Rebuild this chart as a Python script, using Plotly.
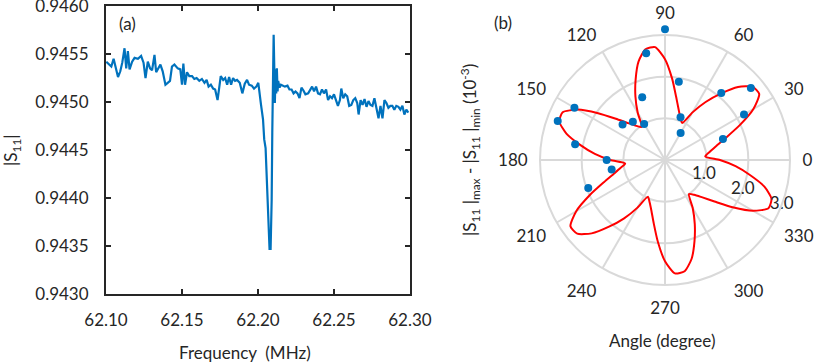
import plotly.graph_objects as go

# ---- (a) reflection spectrum -------------------------------------------------

freq_mhz = [
    62.1002, 62.1020, 62.1035, 62.1050, 62.1063, 62.1079, 62.1094, 62.1107, 62.1122, 62.1133,
    62.1144, 62.1155, 62.1172, 62.1188, 62.1210, 62.1231, 62.1247, 62.1260, 62.1275, 62.1290,
    62.1303, 62.1319, 62.1330, 62.1347, 62.1358, 62.1373, 62.1391, 62.1406, 62.1421, 62.1434,
    62.1450, 62.1472, 62.1489, 62.1500, 62.1509, 62.1520, 62.1533, 62.1548, 62.1566, 62.1581,
    62.1596, 62.1614, 62.1631, 62.1648, 62.1662, 62.1675, 62.1690, 62.1705, 62.1718, 62.1734,
    62.1745, 62.1755, 62.1771, 62.1784, 62.1797, 62.1810, 62.1823, 62.1836, 62.1849, 62.1862,
    62.1880, 62.1897, 62.1913, 62.1928, 62.1941, 62.1959, 62.1974, 62.1989, 62.2002, 62.2011,
    62.2020, 62.2033, 62.2041, 62.2050, 62.2057, 62.2063, 62.2070, 62.2076, 62.2083, 62.2090,
    62.2094, 62.2098, 62.2103, 62.2107, 62.2111, 62.2116, 62.2120, 62.2124, 62.2129, 62.2133,
    62.2142, 62.2151, 62.2164, 62.2177, 62.2194, 62.2207, 62.2221, 62.2234, 62.2247, 62.2260,
    62.2273, 62.2286, 62.2299, 62.2312, 62.2330, 62.2343, 62.2356, 62.2369, 62.2382, 62.2395,
    62.2408, 62.2421, 62.2434, 62.2448, 62.2461, 62.2474, 62.2487, 62.2500, 62.2513, 62.2526,
    62.2539, 62.2548, 62.2561, 62.2574, 62.2587, 62.2600, 62.2614, 62.2627, 62.2640, 62.2653,
    62.2662, 62.2675, 62.2688, 62.2701, 62.2714, 62.2727, 62.2740, 62.2753, 62.2766, 62.2779,
    62.2793, 62.2806, 62.2819, 62.2832, 62.2845, 62.2858, 62.2871, 62.2884, 62.2897, 62.2910,
    62.2924, 62.2937, 62.2950, 62.2963, 62.2976, 62.2989,
]

s11_mag = [
    0.94542, 0.94539, 0.94537, 0.94545, 0.94537, 0.94526, 0.94532, 0.94541, 0.94556, 0.94535,
    0.94553, 0.94534, 0.94542, 0.94546, 0.94545, 0.94548, 0.94541, 0.94525, 0.94542, 0.94535,
    0.94533, 0.94549, 0.94531, 0.94537, 0.94539, 0.94532, 0.94518, 0.94520, 0.94522, 0.94537,
    0.94539, 0.94535, 0.94534, 0.94518, 0.94540, 0.94518, 0.94531, 0.94527, 0.94527, 0.94524,
    0.94525, 0.94522, 0.94524, 0.94520, 0.94523, 0.94516, 0.94518, 0.94514, 0.94513, 0.94502,
    0.94517, 0.94527, 0.94523, 0.94525, 0.94518, 0.94526, 0.94518, 0.94525, 0.94522, 0.94523,
    0.94520, 0.94509, 0.94519, 0.94523, 0.94518, 0.94517, 0.94514, 0.94516, 0.94520, 0.94511,
    0.94497, 0.94482, 0.94461, 0.94452, 0.94426, 0.94398, 0.94367, 0.94347, 0.94347, 0.94398,
    0.94468, 0.94537, 0.94570, 0.94537, 0.94499, 0.94534, 0.94509, 0.94535, 0.94511, 0.94522,
    0.94515, 0.94518, 0.94517, 0.94516, 0.94517, 0.94513, 0.94513, 0.94509, 0.94511, 0.94509,
    0.94504, 0.94515, 0.94512, 0.94508, 0.94509, 0.94513, 0.94516, 0.94511, 0.94516, 0.94509,
    0.94508, 0.94513, 0.94509, 0.94513, 0.94502, 0.94506, 0.94504, 0.94508, 0.94503, 0.94496,
    0.94502, 0.94514, 0.94504, 0.94508, 0.94506, 0.94496, 0.94497, 0.94502, 0.94504, 0.94499,
    0.94487, 0.94502, 0.94497, 0.94503, 0.94495, 0.94501, 0.94497, 0.94496, 0.94504, 0.94493,
    0.94483, 0.94496, 0.94483, 0.94502, 0.94499, 0.94494, 0.94496, 0.94496, 0.94492, 0.94496,
    0.94495, 0.94492, 0.94496, 0.94487, 0.94492, 0.94489,
]

freq_ticks = [62.10, 62.15, 62.20, 62.25, 62.30]
s11_ticks = [0.9430, 0.9435, 0.9440, 0.9445, 0.9450, 0.9455, 0.9460]

# ---- (b) angular dependence (10^-3) ------------------------------------------

meas_angle = [20, 30, 40, 50, 60, 70, 80, 90, 100, 110,
              120, 130, 140, 150, 160, 170, 180, 190, 200]
meas_delta = [1.48, 2.19, 2.69, 2.10, 0.75, 1.09, 1.91, 3.14, 2.60, 1.60,
              1.00, 1.20, 1.33, 2.51, 2.74, 2.19, 1.40, 1.30, 1.96]

fit_angle = list(range(0, 361, 5))
fit_delta = [
    1.32, 0.97, 1.08, 1.26, 1.55, 1.98, 2.45, 2.76, 2.74, 2.48, 2.08, 1.70,
    1.32, 0.98, 1.08, 1.26, 1.54, 1.96, 2.42, 2.72, 2.70, 2.45, 2.06, 1.68,
    1.31, 0.97, 1.07, 1.25, 1.54, 1.96, 2.42, 2.71, 2.70, 2.45, 2.06, 1.69,
    1.31, 0.96, 1.08, 1.27, 1.56, 1.99, 2.46, 2.77, 2.75, 2.49, 2.09, 1.71,
    1.32, 0.97, 1.08, 1.26, 1.55, 1.97, 2.43, 2.73, 2.71, 2.46, 2.07, 1.69,
    1.33, 1.00, 1.09, 1.27, 1.55, 1.98, 2.44, 2.74, 2.72, 2.47, 2.07, 1.70,
    1.32,
]
radial_max = 3.0
radial_ticks = [1, 2, 3]
radial_label_angle = -21
angle_ticks = [0, 30, 60, 90, 120, 150, 180, 210, 240, 270, 300, 330]

# ---- styling -----------------------------------------------------------------

FONT = "Lato, 'Open Sans', sans-serif"
TEXT = "#262626"
BLUE = "#0072BD"
GRID = "#d9d9d9"
W, H = 817, 364

# polar frame: centre and outer radius in pixels
PCX, PCY, PR = 665, 160, 125
# the measured points need a little headroom (one sits past the 3.0 ring),
# so they live on an invisible twin polar with the same px-per-unit scale
DOT_MAX = 3.3
PR2 = PR * DOT_MAX / radial_max


def px(x, y):
    """pixel position -> paper fraction"""
    return x / W, 1 - y / H


def polar_domain(r):
    return dict(x=[(PCX - r) / W, (PCX + r) / W],
                y=[1 - (PCY + r) / H, 1 - (PCY - r) / H])


fig = go.Figure()

fig.add_trace(go.Scatter(
    x=freq_mhz, y=s11_mag, mode="lines",
    line=dict(color=BLUE, width=2.2),
    showlegend=False, hoverinfo="skip",
))

fig.add_trace(go.Scatterpolar(
    r=fit_delta, theta=fit_angle, mode="lines",
    line=dict(color="#ff0000", width=2, shape="spline", smoothing=0.6),
    showlegend=False, hoverinfo="skip",
))
# radial tick labels, centred on the tick rings like the original
fig.add_trace(go.Scatterpolar(
    r=radial_ticks, theta=[radial_label_angle] * len(radial_ticks),
    mode="text", text=[f"{v:.1f}" for v in radial_ticks],
    textposition="middle center", textfont=dict(size=17, color=TEXT),
    cliponaxis=False, showlegend=False, hoverinfo="skip",
))
fig.add_trace(go.Scatterpolar(
    r=meas_delta, theta=meas_angle, mode="markers", subplot="polar2",
    marker=dict(color=BLUE, size=8),
    showlegend=False, hoverinfo="skip",
))

axis_common = dict(
    showline=True, linecolor=TEXT, linewidth=2, mirror="ticks",
    ticks="inside", ticklen=5, tickwidth=1.5, tickcolor=TEXT,
    showgrid=False, zeroline=False, automargin=False,
    ticklabeloverflow="allow",
    tickfont=dict(size=17, color=TEXT),
)

fig.update_layout(
    width=W, height=H,
    margin=dict(l=0, r=0, t=0, b=0, autoexpand=False),
    paper_bgcolor="white", plot_bgcolor="white",
    font=dict(family=FONT, color=TEXT, size=17),
    xaxis=dict(
        domain=[106 / W, 410 / W], range=[62.10, 62.30001],
        tickvals=freq_ticks, tickformat=".2f", ticklabelstandoff=10,
        **axis_common,
    ),
    yaxis=dict(
        domain=[1 - 294 / H, 1 - 6 / H], range=[0.94299999, 0.94600001],
        tickvals=s11_ticks, tickformat=".4f", ticklabelstandoff=12,
        **axis_common,
    ),
    polar=dict(
        domain=polar_domain(PR),
        bgcolor="white",
        radialaxis=dict(
            range=[0, radial_max], tickvals=radial_ticks, showticklabels=False,
            angle=radial_label_angle, showline=False, ticks="",
            gridcolor=GRID, gridwidth=2,
        ),
        angularaxis=dict(
            rotation=0, direction="counterclockwise",
            tickmode="array", tickvals=angle_ticks,
            ticktext=[str(a) for a in angle_ticks],
            showline=True, linecolor=GRID, linewidth=2,
            gridcolor=GRID, gridwidth=2,
            ticks="outside", ticklen=8, tickcolor="rgba(0,0,0,0)",
            tickfont=dict(size=17, color=TEXT),
        ),
    ),
    polar2=dict(
        domain=polar_domain(PR2),
        bgcolor="rgba(0,0,0,0)",
        radialaxis=dict(range=[0, DOT_MAX], visible=False),
        angularaxis=dict(rotation=0, direction="counterclockwise", visible=False),
    ),
)

notes = [
    (12, 150, "|S<sub>11</sub>|", -90),
    (245, 352, "Frequency\u00a0 (MHz)", 0),
    (470, 150, "|S<sub>11</sub> |<sub>max</sub> - |S<sub>11</sub> |<sub>min</sub> (10<sup>-3</sup>)", -90),
    (662, 340, "Angle (degree)", 0),
    (127, 24, "(a)", 0),
    (503, 22, "(b)", 0),
]
for x, y, text, ang in notes:
    ax_, ay_ = px(x, y)
    fig.add_annotation(
        x=ax_, y=ay_, xref="paper", yref="paper", text=text,
        textangle=ang, showarrow=False, xanchor="center", yanchor="middle",
        font=dict(size=17, color=TEXT),
    )

# drop the browser's default body margin so the figure sits at the page origin
fig.write_html(
    "out.html",
    config={"displayModeBar": False},
    post_script="document.body.style.margin = '0';",
)
